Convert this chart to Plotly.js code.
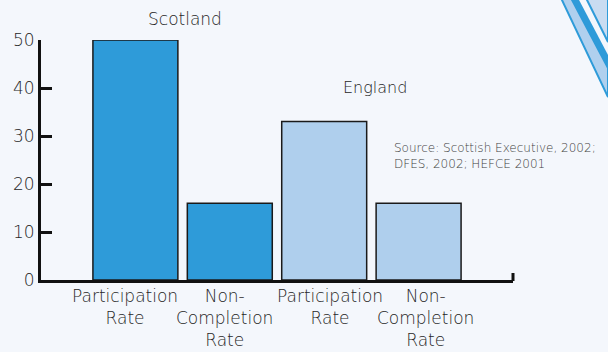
<!DOCTYPE html>
<html>
<head>
<meta charset="utf-8">
<script src="https://cdn.plot.ly/plotly-3.0.1.min.js"></script>
<style>
html,body{margin:0;padding:0;background:#f4f7fc;}
#chart{width:608px;height:352px;}
</style>
</head>
<body>
<div id="chart"></div>
<script>
// ---- data ----
var groups = ["Scotland", "England"];
var measures = ["Participation<br>Rate", "Non-<br>Completion<br>Rate"];
var scotlandValues = [50, 16];
var englandValues = [33, 16];
var yTicks = [0, 10, 20, 30, 40, 50];
var sourceText = "Source: Scottish Executive, 2002;<br>DFES, 2002; HEFCE 2001";

// ---- layout helpers ----
var W = 608, H = 352;
var M = {l: 41, r: 95, t: 40, b: 72};
var PW = W - M.l - M.r, PH = H - M.t - M.b;
function px(x){ return (x - M.l) / PW; }
function py(y){ return (H - M.b - y) / PH; }
function P(pts){
  return "M" + pts.map(function(p){ return px(p[0]).toFixed(4) + "," + py(p[1]).toFixed(4); }).join(" L") + " Z";
}

var font = "DejaVu Sans, Open Sans, sans-serif";
var txt = "#262626";
var WT = 200;

var traces = [
  {type: "bar", x: [0, 1], y: scotlandValues, name: groups[0], width: 0.9,
   marker: {color: "#2e9bd9", line: {color: "#1a1a1a", width: 1.5}}, hoverinfo: "y"},
  {type: "bar", x: [2, 3], y: englandValues, name: groups[1], width: 0.9,
   marker: {color: "#afcfed", line: {color: "#1a1a1a", width: 1.5}}, hoverinfo: "y"}
];

var labelShift = [-10, -5, 6, 7];
var annotations = [];
var allMeasures = measures.concat(measures);
allMeasures.forEach(function(m, i){
  annotations.push({x: i, y: 0, xref: "x", yref: "y", text: m, showarrow: false,
    xanchor: "center", yanchor: "top", yshift: -4, xshift: labelShift[i],
    font: {family: font, size: 17, color: txt, weight: WT}});
});
annotations.push({x: px(185), y: py(19), xref: "paper", yref: "paper", text: groups[0],
  showarrow: false, xanchor: "center", yanchor: "middle", font: {family: font, size: 17, color: txt, weight: WT}});
annotations.push({x: px(375), y: py(88), xref: "paper", yref: "paper", text: groups[1],
  showarrow: false, xanchor: "center", yanchor: "middle", font: {family: font, size: 16, color: txt, weight: WT}});
annotations.push({x: px(392), y: py(156), xref: "paper", yref: "paper", text: sourceText,
  showarrow: false, xanchor: "left", yanchor: "middle", align: "left",
  font: {family: font, size: 12, color: "#404040", weight: WT}});

var shapes = [
  // decorative swoosh (top right)
  {type: "path", xref: "paper", yref: "paper", path: P([[561,-2],[608,97],[608,68],[571,-2]]),
   fillcolor: "#b0d0ee", line: {color: "#2e9bd9", width: 2}},
  {type: "path", xref: "paper", yref: "paper", path: P([[571,-2],[608,68],[608,55],[578,-2]]),
   fillcolor: "#2e9bd9", line: {width: 0}},
  {type: "path", xref: "paper", yref: "paper", path: P([[586,-2],[608,42],[608,-2]]),
   fillcolor: "#c9dcf1", line: {color: "#2e9bd9", width: 2}},
  // small up-turn at the end of the x axis
  {type: "line", xref: "paper", yref: "paper", x0: px(513), x1: px(513), y0: py(281), y1: py(273),
   line: {color: "#111", width: 3}}
];

var layout = {
  width: W, height: H,
  margin: M,
  paper_bgcolor: "#f4f7fc", plot_bgcolor: "#f4f7fc",
  showlegend: false,
  bargap: 0,
  font: {family: font, color: txt},
  xaxis: {range: [-1, 4], showgrid: false, zeroline: false, showticklabels: false,
          ticks: "", showline: true, linecolor: "#111", linewidth: 3, fixedrange: true},
  yaxis: {range: [0, 50], tickmode: "array", tickvals: yTicks, ticktext: yTicks.map(String),
          showgrid: false, zeroline: false,
          ticks: "inside", ticklen: 11, tickwidth: 3, tickcolor: "#111111",
          showline: true, linecolor: "#111", linewidth: 3,
          tickfont: {family: font, size: 17, color: txt, weight: WT}, fixedrange: true},
  annotations: annotations,
  shapes: shapes
};

Plotly.newPlot("chart", traces, layout, {displayModeBar: false, staticPlot: true});
</script>
</body>
</html>
